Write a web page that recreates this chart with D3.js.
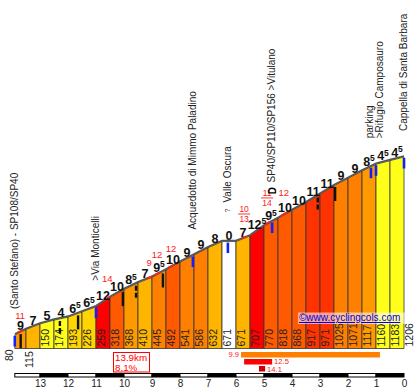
<!DOCTYPE html>
<html><head><meta charset="utf-8">
<script src="https://cdn.jsdelivr.net/npm/d3@7"></script>
<style>body{margin:0;background:#fff} svg{display:block}</style>
</head><body><svg id="c" width="419" height="390"></svg>
<script>
// ---------- data ----------
const kmMarks = [13.9,13.5,13,12.5,12,11.5,11,10.5,10,9.5,9,8.5,8,7.5,7,6.5,6,5.5,5,4.5,4,3.5,3,2.5,2,1.5,1,0.5,0];
const elevations = [80,115,150,174,193,226,259,318,368,410,445,492,541,586,632,671,671,707,770,818,868,917,971,1025,1071,1117,1160,1183,1206];
const gradientLabels = [9,7,5,4,6.5,6.5,12,10,8.5,7,9.5,10,9,9,8,0,7,12.5,9.5,10,10,11,11,9,9,8.5,4.5,4.5];
const axisKm = [13,12,11,10,9,8,7,6,5,4,3,2,1,0];
const totalKm = 13.9;
const poiKm = [13.9, 11, 7.54, 6.29, 4.71, 1.0, 0];
const poiNames = [["(Santo Stefano) - SP108/SP40"],[">Via Monticelli"],["Acquedotto di Mimmo Paladino"],["Valle Oscura"],["SP40/SP110/SP156 >Vitulano"],["parking",">Rifugio Camposauro"],["Cappella di Santa Barbara"]];
const poiSymbols = ["","","","?","D","",""];
const blueMarkerKm = [13.9, 11, 7.54, 6.29, 4.71, 1.18, 1.0, 0];
const blackMarkerKm = [13.69, 12.29, 11.64, 10.04, 9.57, 8.61, 3.08, 2.46];
const blackMarkerDashed = [false,true,false,false,true,false,true,false];
const redKm = [13.71, 10.6, 9.1, 8.82, 8.32, 5.71, 4.89, 4.29];
const redValues = ["11","14","9","12","12","10/13","11/14","12"];
const steepValues = ["9.9","12.5","14.1"];
const steepFrom = [5.82, 5.71, 5.18];
const steepTo = [0.86, 4.71, 4.96];

// ---------- layout / style ----------
const redDy = [-17,-20,-16,-20,-18,-29,-31,-22];
const steepColors = ["#ff8000","#ff0000","#cc0000"];
const BASE = 348.5;
const FONT = "'Liberation Sans', Arial, sans-serif";

const svg = d3.select("#c");
const x = d3.scaleLinear().domain([totalKm, 0]).range([14.8, 404]);
const y = d3.scaleLinear().domain([80, 1206]).range([335, 157]);
const elevAt = d3.scaleLinear().domain(kmMarks).range(elevations);
const color = d3.scaleThreshold()
  .domain([0.5, 5.5, 7, 8, 9, 9.5, 10.5, 11.5])
  .range(["#ffffff","#ffff1a","#ffd400","#ffb400","#ff9900","#ff8000","#ff5a00","#ff3300","#ff0000"]);

const segs = d3.range(kmMarks.length - 1).map(i => {
  const k0 = kmMarks[i], k1 = kmMarks[i+1], e0 = elevations[i], e1 = elevations[i+1];
  const g = Math.round((e1 - e0) / ((k0 - k1) * 1000) * 1000) / 10;
  return {i, k0, k1, e0, e1, g, label: gradientLabels[i]};
});

// bars
svg.append("g").selectAll("path").data(segs).join("path")
  .attr("d", d => `M${x(d.k0)},${BASE}L${x(d.k0)},${y(d.e0)}L${x(d.k1)},${y(d.e1)}L${x(d.k1)},${BASE}Z`)
  .attr("fill", d => color(d.g))
  .attr("stroke", "#333").attr("stroke-width", 0.8);

// elevation labels in bars
const elevG = svg.append("g").attr("font-family", FONT).attr("font-size", 10.5).attr("fill", "#222");
elevations.forEach((e, i) => {
  const k = kmMarks[i];
  let bx = x(k) + 8.5, by = 346.5;
  if (i === 0) { bx = x(k) - 2; by = 361; }
  else if (i < elevations.length - 1 && BASE - y(Math.min(e, elevations[i+1])) < 22) { by = 368; bx = x(k) + 7; }
  elevG.append("text").attr("transform", `translate(${bx},${by}) rotate(-90)`).text(e);
});

// profile outline
const line = d3.line().x(d => x(d[0])).y(d => y(d[1]) - 1);
svg.append("path").datum(kmMarks.map((k, i) => [k, elevations[i]]))
  .attr("d", line).attr("fill", "none").attr("stroke", "#555").attr("stroke-width", 1.6);

// red accents at steep spots
redKm.forEach(k => {
  const pts = [k + 0.1, k, k - 0.1].map(kk => [kk, elevAt(kk)]);
  svg.append("path").datum(pts).attr("d", line).attr("fill", "none")
    .attr("stroke", "#ff2020").attr("stroke-width", 1.6);
});

// blue markers
svg.append("g").selectAll("line").data(blueMarkerKm).join("line")
  .attr("x1", k => x(k)).attr("x2", k => x(k))
  .attr("y1", k => y(elevAt(k)) + 1).attr("y2", k => y(elevAt(k)) + 11.5)
  .attr("stroke", "#1020ff").attr("stroke-width", 2.6);

// black markers
svg.append("g").selectAll("line").data(blackMarkerKm).join("line")
  .attr("x1", k => x(k)).attr("x2", k => x(k))
  .attr("y1", k => y(elevAt(k)) + 2).attr("y2", k => y(elevAt(k)) + 16)
  .attr("stroke", "#111").attr("stroke-width", 2.4)
  .attr("stroke-dasharray", (k, i) => blackMarkerDashed[i] ? "5,2" : null);

// gradient labels
const gl = svg.append("g").attr("font-family", FONT).attr("font-weight", "bold")
  .attr("font-size", 12.5).attr("fill", "#111").attr("text-anchor", "middle");
segs.forEach(d => {
  const t = gl.append("text").attr("x", (x(d.k0) + x(d.k1)) / 2)
    .attr("y", y((d.e0 + d.e1) / 2) - 2);
  const whole = Math.floor(d.label);
  t.append("tspan").text(whole);
  if (d.label - whole > 0) t.append("tspan").attr("font-size", 8.5).attr("dy", -4.5).text("5");
});

// red numbers
const rg = svg.append("g").attr("font-family", FONT).attr("fill", "#ff2020").attr("text-anchor", "middle");
redKm.forEach((k, i) => {
  const cx = x(k), cy = y(elevAt(k)) + redDy[i];
  const parts = redValues[i].split("/");
  const fs = parts.length > 1 ? 8.5 : 9.5;
  rg.append("text").attr("x", cx).attr("y", cy + 3.2).attr("font-size", fs).text(parts[0]);
  if (parts.length > 1) {
    rg.append("line").attr("x1", cx - 6).attr("x2", cx + 6).attr("y1", cy + 4.7).attr("y2", cy + 4.7)
      .attr("stroke", "#ff2020").attr("stroke-width", 0.9);
    rg.append("text").attr("x", cx).attr("y", cy + 13).attr("font-size", fs).text(parts[1]);
  }
});

// POI labels
const pg = svg.append("g").attr("font-family", FONT).attr("font-size", 10).attr("fill", "#222");
poiKm.forEach((k, i) => {
  const xp = x(k), yp = y(elevAt(k));
  const sym = poiSymbols[i];
  const bottom = yp - (sym ? 39 : 26);
  const lines = poiNames[i], n = lines.length;
  lines.forEach((s, j) => {
    const bx = xp + 3 + j * 10 - (n - 1) * 6;
    pg.append("text").attr("transform", `translate(${bx},${bottom}) rotate(-90)`).text(s);
  });
  if (sym) {
    pg.append("text").attr("transform", `translate(${xp},${yp - 31}) rotate(-90)`)
      .attr("text-anchor", "middle").attr("dy", "0.35em")
      .attr("font-weight", sym === "D" ? "bold" : "normal")
      .attr("font-size", sym === "D" ? 10 : 7).attr("fill", sym === "D" ? "#000" : "#444").text(sym);
  }
});

// copyright
svg.append("rect").attr("x", 298).attr("y", 312.5).attr("width", 110).attr("height", 11.5).attr("fill", "#fff").attr("opacity", 0.55);
svg.append("text").attr("x", 299).attr("y", 321).attr("font-family", FONT).attr("font-size", 10)
  .attr("fill", "#0000ee").attr("text-decoration", "underline").text("©www.cyclingcols.com");

// summary box
const avg = ((elevations[elevations.length-1] - elevations[0]) / (totalKm * 1000) * 100).toFixed(1);
svg.append("rect").attr("x", 113.5).attr("y", 352.5).attr("width", 36).attr("height", 19.5)
  .attr("fill", "#fff").attr("stroke", "#ff0000").attr("stroke-width", 1);
svg.append("text").attr("x", 115).attr("y", 361).attr("font-family", FONT).attr("font-size", 9.8).attr("fill", "#ff0000").text(totalKm + "km");
svg.append("text").attr("x", 115).attr("y", 370.5).attr("font-family", FONT).attr("font-size", 9.8).attr("fill", "#ff0000").text(avg + "%");

// steepest sections
steepValues.forEach((v, i) => {
  const yy = 352 + i * 7;
  svg.append("rect").attr("x", x(steepFrom[i])).attr("y", yy)
    .attr("width", x(steepTo[i]) - x(steepFrom[i])).attr("height", 5.5).attr("fill", steepColors[i]);
  const t = svg.append("text").attr("y", yy + 5.3 + (i === 2 ? 0.8 : 0)).attr("font-family", FONT).attr("font-size", 7.6).attr("fill", "#ff2020").text(v);
  if (i === 0) t.attr("x", x(steepFrom[i]) - 2).attr("text-anchor", "end");
  else t.attr("x", x(steepTo[i]) + 2);
});

// km band
const bandKm = [totalKm, ...axisKm];
svg.append("g").selectAll("rect").data(d3.range(bandKm.length - 1)).join("rect")
  .attr("x", i => x(bandKm[i])).attr("y", 373.5)
  .attr("width", i => x(bandKm[i+1]) - x(bandKm[i])).attr("height", 3.5)
  .attr("fill", i => i % 2 ? "#000" : "#fff").attr("stroke", "#000").attr("stroke-width", 1);

// axis
const ax = svg.append("g").attr("transform", "translate(0,379)")
  .call(d3.axisBottom(x).tickValues(axisKm).tickSize(0).tickPadding(1).tickFormat(d3.format("d")));
ax.select(".domain").remove();
ax.selectAll("text").attr("font-family", FONT).attr("font-size", 10).attr("fill", "#222");
</script></body></html>
